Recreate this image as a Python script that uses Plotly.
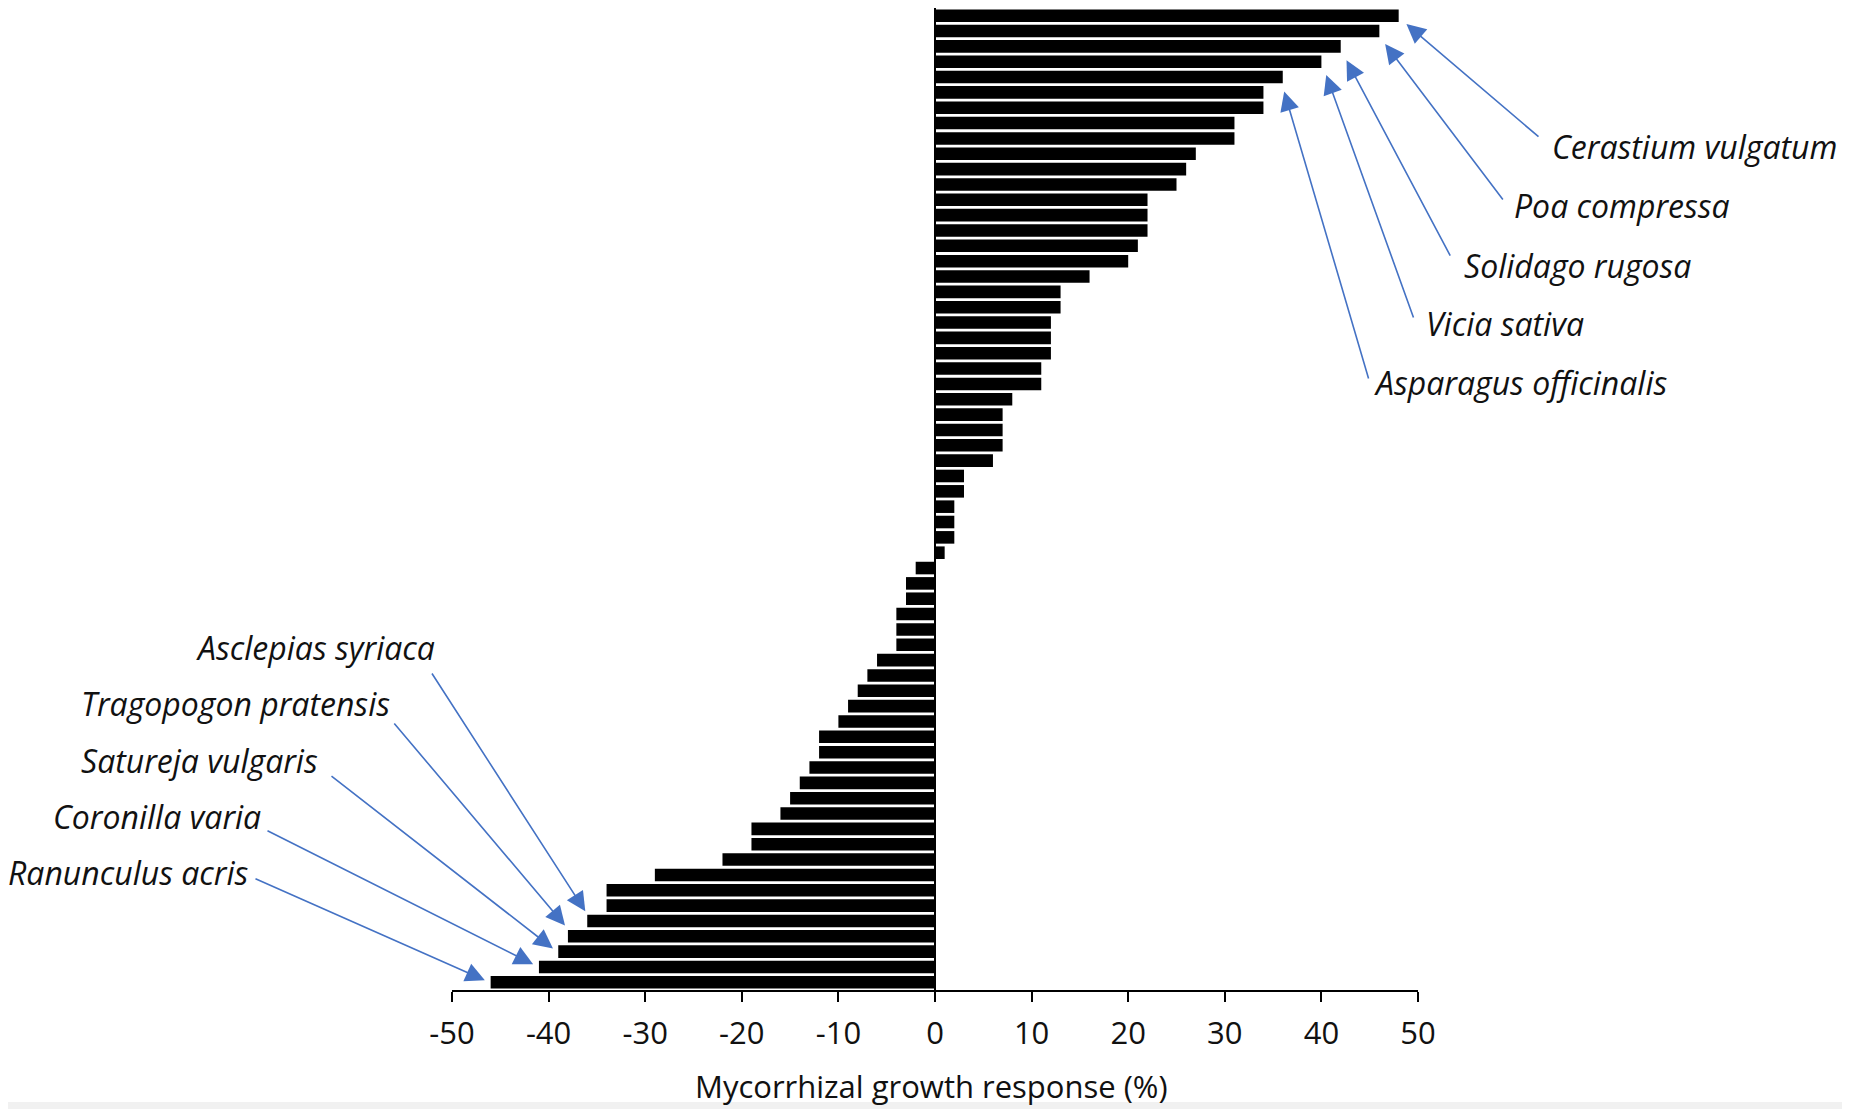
import plotly.graph_objects as go

# ---- data (top bar first) ----
positive_values = [48, 46, 42, 40, 36, 34, 34, 31, 31, 27, 26, 25, 22, 22, 22, 21, 20, 16,
                   13, 13, 12, 12, 12, 11, 11, 8, 7, 7, 7, 6, 3, 3, 2, 2, 2, 1]
negative_values = [-2, -3, -3, -4, -4, -4, -6, -7, -8, -9, -10, -12, -12, -13, -14, -15, -16,
                   -19, -19, -22, -29, -34, -34, -36, -38, -39, -41, -46]
values = positive_values + negative_values
bar_index = list(range(len(values)))

x_tick_values = [-50, -40, -30, -20, -10, 0, 10, 20, 30, 40, 50]
x_tick_text = [str(v) for v in x_tick_values]
x_title = "Mycorrhizal growth response (%)"

right_species = ["Cerastium vulgatum", "Poa compressa", "Solidago rugosa", "Vicia sativa",
                 "Asparagus officinalis"]
right_bars = [0, 1, 2, 3, 4]
left_species = ["Asclepias syriaca", "Tragopogon pratensis", "Satureja vulgaris",
                "Coronilla varia", "Ranunculus acris"]
left_bars = [59, 60, 61, 62, 63]

# ---- layout geometry (page pixels; the page body adds an 8px offset) ----
OFF = 8
W, H = 1850, 1109
PLOT_LEFT, PLOT_RIGHT, PLOT_TOP, PLOT_BOTTOM = 452, 1418, 8, 990   # page coords
L = PLOT_LEFT - OFF
T = max(PLOT_TOP - OFF, 0)
PW = PLOT_RIGHT - PLOT_LEFT
PH = PLOT_BOTTOM - OFF - T
R = W - L - PW
B = H - T - PH
XMIN, XMAX = -50, 50
NB = len(values)

def px_x(v):          # data -> page px
    return PLOT_LEFT + (v - XMIN) / (XMAX - XMIN) * PW

def px_y(i):          # bar index -> page px
    return (T + OFF) + (i + 0.5) / NB * PH

def paper_x(px):      # page px -> paper
    return (px - PLOT_LEFT) / PW

def paper_y(py):
    return (PLOT_BOTTOM - py) / PH

fig = go.Figure()
fig.add_trace(go.Bar(
    x=values, y=bar_index, orientation="h",
    marker=dict(color="black", line=dict(width=0)),
    hoverinfo="x",
))

ARROW = "#4472C4"
FONT = "Open Sans"
TXT = "#111111"
LABEL_SHIFT = -4

# label placement (page px): text left, text center y, arrow tail x, tail y, head dx, head dy
right_place = [(1554, 146, 1540, 138, 0.8, 0.55),
               (1516, 206, 1504, 201, 0.6, 0.85),
               (1466, 265, 1451, 257, 0.6, 0.9),
               (1428, 323, 1414, 319, 0.5, 0.87),
               (1376, 382, 1369, 380, 0.15, 0.95)]
left_place = [(198, 647, 431, 672, -0.2, -0.63),
              (83, 703, 393, 722, -0.3, -0.7),
              (83, 760, 330, 775, -0.55, -0.2),
              (55, 816, 266, 830, -0.6, -0.18),
              (10, 872, 254, 878, -0.6, -0.13)]

annotations = []
for names, bars, places in ((right_species, right_bars, right_place),
                            (left_species, left_bars, left_place)):
    for name, bi, (tx, ty, ax_px, ay_px, dx, dy) in zip(names, bars, places):
        annotations.append(dict(
            text=name, xref="paper", yref="paper", x=paper_x(tx + LABEL_SHIFT), y=paper_y(ty),
            xanchor="left", yanchor="middle", showarrow=False,
            font=dict(family=FONT, size=32, color=TXT, style="italic"),
        ))
        hx = values[bi] + dx
        hy = bi + dy
        annotations.append(dict(
            text="", xref="x", yref="y", x=hx, y=hy,
            ax=ax_px - px_x(hx), ay=ay_px - px_y(hy), axref="pixel", ayref="pixel",
            showarrow=True, arrowhead=2, arrowsize=2.4, arrowwidth=1.6,
            arrowcolor=ARROW,
        ))

# axis title
annotations.append(dict(
    text=x_title, xref="paper", yref="paper", x=paper_x(931), y=paper_y(1086),
    xanchor="center", yanchor="middle", showarrow=False,
    font=dict(family=FONT, size=31, color=TXT),
))

fig.update_layout(
    width=W, height=H,
    margin=dict(l=L, r=R, t=T, b=B, pad=0),
    paper_bgcolor="white", plot_bgcolor="white",
    bargap=0.18, showlegend=False,
    font=dict(family=FONT, color=TXT),
    annotations=annotations,
    shapes=[dict(type="rect", xref="paper", yref="paper",
                 x0=paper_x(0), x1=paper_x(W + OFF), y0=paper_y(H + OFF), y1=paper_y(1102),
                 fillcolor="#f1f1f1", line=dict(width=0), layer="below")],
    xaxis=dict(
        range=[XMIN, XMAX], tickvals=x_tick_values, ticktext=x_tick_text,
        showgrid=False, zeroline=True, zerolinecolor="black", zerolinewidth=2,
        showline=True, linecolor="black", linewidth=1.5,
        ticks="outside", ticklen=10, tickwidth=1.5, tickcolor="black",
        ticklabelstandoff=5,
        tickfont=dict(family=FONT, size=31, color=TXT),
        fixedrange=True,
    ),
    yaxis=dict(
        range=[NB - 0.5, -0.5], showticklabels=False, showgrid=False,
        zeroline=False, showline=False, ticks="", fixedrange=True,
    ),
)

fig.write_html("out.html")
